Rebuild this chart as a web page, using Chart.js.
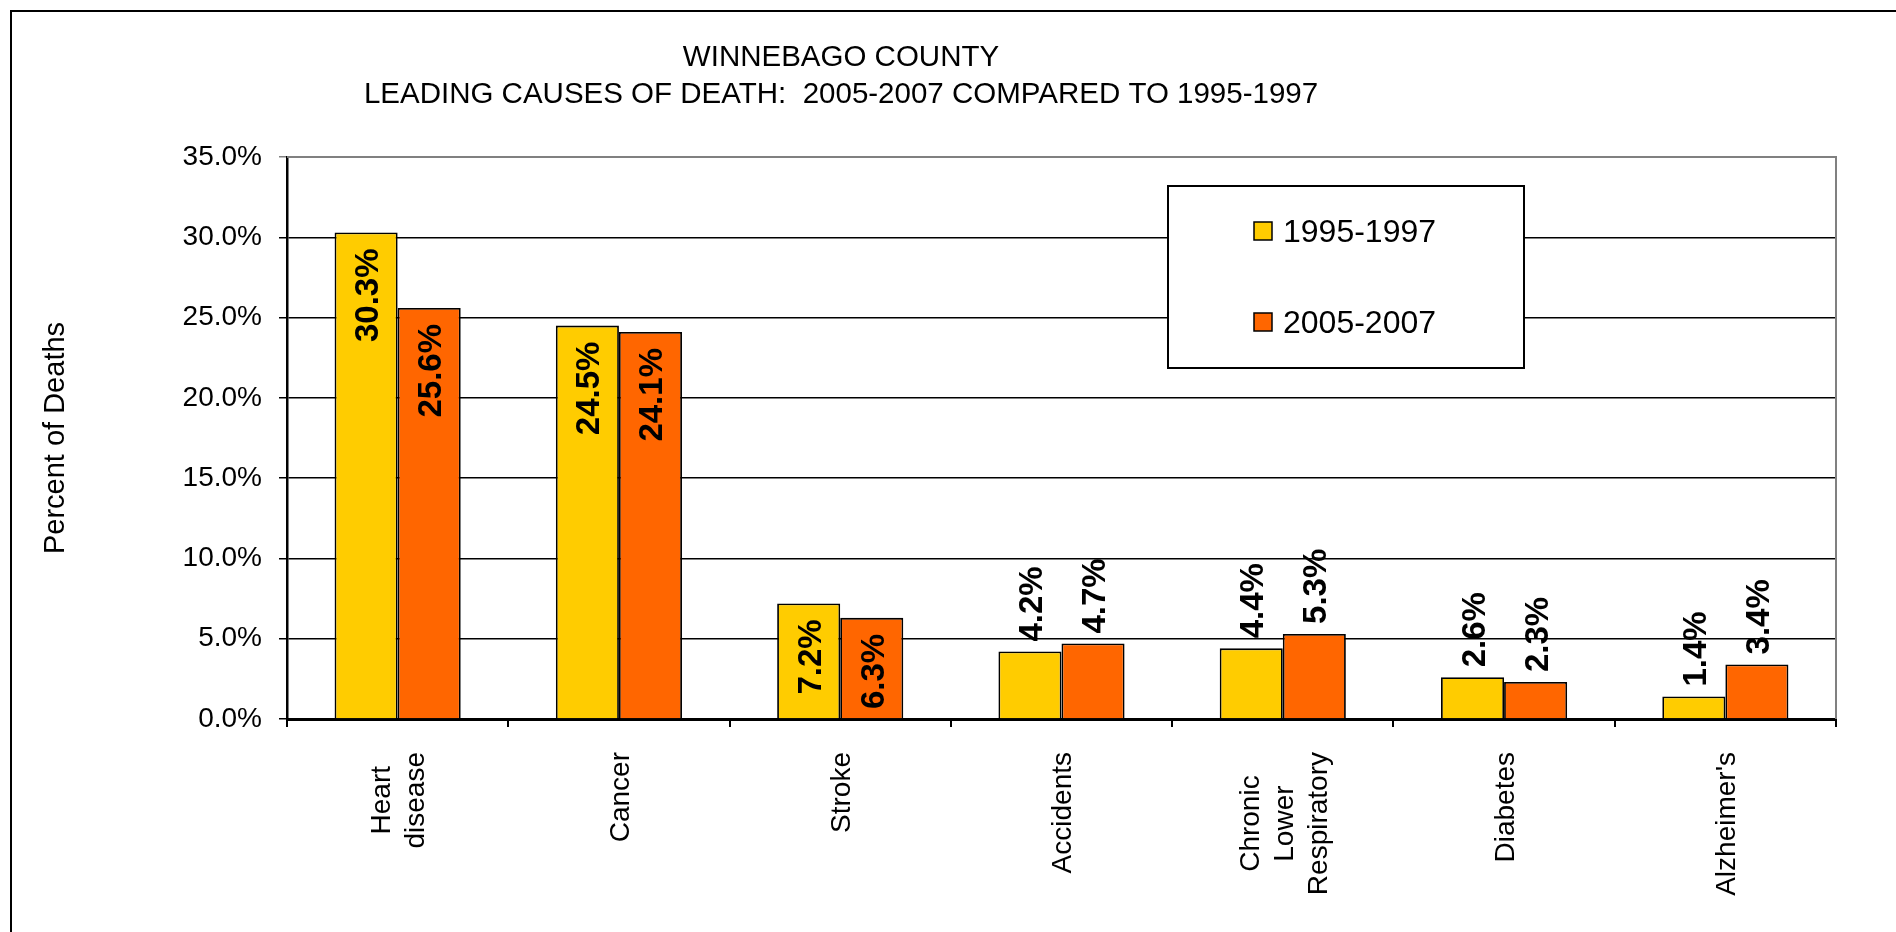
<!DOCTYPE html>
<html><head><meta charset="utf-8">
<script src="https://cdn.jsdelivr.net/npm/chart.js@4.4.1/dist/chart.umd.min.js"></script>
<style>html,body{margin:0;padding:0;background:#fff;overflow:hidden}#wrap{width:1896px;height:932px;position:relative}canvas{display:block}</style>
</head><body><div id="wrap"><canvas id="c" width="1896" height="932"></canvas></div>
<script>
const categories = [['Heart','disease'],['Cancer'],['Stroke'],['Accidents'],['Chronic','Lower','Respiratory'],['Diabetes'],["Alzheimer's"]];
const seriesNames = ['1995-1997','2005-2007'];
const values1995 = [30.3,24.5,7.2,4.2,4.4,2.6,1.4];
const values2005 = [25.6,24.1,6.3,4.7,5.3,2.3,3.4];
const yTicks = [0,5,10,15,20,25,30,35];
const titleLines = ['WINNEBAGO COUNTY','LEADING CAUSES OF DEATH:  2005-2007 COMPARED TO 1995-1997'];
const yAxisTitle = 'Percent of Deaths';

const FONT = '"Liberation Sans", Arial, sans-serif';
const colors = ['#FFCC00','#FF6600'];

const decor = {
  id: 'decor',
  beforeDraw(chart){
    const ctx = chart.ctx;
    ctx.save(); ctx.fillStyle = '#fff'; ctx.fillRect(0,0,chart.width,chart.height); ctx.restore();
  },
  afterDatasetsDraw(chart){
    const ctx = chart.ctx;
    ctx.save();
    ctx.font = 'bold 33px ' + FONT;
    ctx.fillStyle = '#000';
    chart.data.datasets.forEach((ds, di) => {
      const meta = chart.getDatasetMeta(di);
      meta.data.forEach((bar, i) => {
        const v = ds.data[i];
        const txt = v.toFixed(1) + '%';
        const w = ctx.measureText(txt).width;
        const h = bar.base - bar.y;
        const inside = h > w + 20;
        ctx.save();
        ctx.translate(bar.x, inside ? bar.y + 16 : bar.y - 10);
        ctx.rotate(-Math.PI/2);
        ctx.textAlign = inside ? 'right' : 'left';
        ctx.textBaseline = 'alphabetic';
        ctx.fillText(txt, 0, 12);
        ctx.restore();
      });
    });
    ctx.restore();
  },
  afterDraw(chart){
    const ctx = chart.ctx;
    const ca = chart.chartArea;
    ctx.save();
    // outer frame
    ctx.strokeStyle = '#000'; ctx.lineWidth = 2;
    ctx.beginPath(); ctx.moveTo(11, 932); ctx.lineTo(11, 11); ctx.lineTo(1896, 11); ctx.stroke();
    // plot area border (top/right)
    ctx.strokeStyle = '#808080'; ctx.lineWidth = 2;
    ctx.beginPath(); ctx.moveTo(ca.left, ca.top); ctx.lineTo(ca.right, ca.top); ctx.lineTo(ca.right, ca.bottom); ctx.stroke();
    // title
    ctx.fillStyle = '#000';
    ctx.font = '29.5px ' + FONT;
    ctx.textAlign = 'center'; ctx.textBaseline = 'middle';
    titleLines.forEach((t, i) => ctx.fillText(t, 841, 58 + i * 37));
    // legend
    const lx = 1168, ly = 186, lw = 356, lh = 182;
    ctx.fillStyle = '#fff'; ctx.fillRect(lx, ly, lw, lh);
    ctx.strokeStyle = '#000'; ctx.lineWidth = 2; ctx.strokeRect(lx, ly, lw, lh);
    ctx.font = '32px ' + FONT;
    ctx.textAlign = 'left'; ctx.textBaseline = 'middle';
    chart.data.datasets.forEach((ds, i) => {
      const cy = 231 + i * 91;
      ctx.fillStyle = ds.backgroundColor;
      ctx.fillRect(1254, cy - 9, 18, 18);
      ctx.strokeStyle = '#000'; ctx.lineWidth = 1.5;
      ctx.strokeRect(1254, cy - 9, 18, 18);
      ctx.fillStyle = '#000';
      ctx.fillText(ds.label, 1283, cy + 2);
    });
    // category labels
    const xs = chart.scales.x;
    ctx.font = '28px ' + FONT;
    ctx.fillStyle = '#000';
    categories.forEach((lines, i) => {
      const cx = xs.getPixelForValue(i);
      const maxW = Math.max(...lines.map(l => ctx.measureText(l).width));
      const top = ca.bottom + 33;
      lines.forEach((l, j) => {
        const off = (j - (lines.length - 1) / 2) * 34;
        ctx.save();
        ctx.translate(cx + off + 2, top + maxW / 2);
        ctx.rotate(-Math.PI / 2);
        ctx.textAlign = 'center'; ctx.textBaseline = 'middle';
        ctx.fillText(l, 0, 0);
        ctx.restore();
      });
    });
    ctx.restore();
  }
};

new Chart(document.getElementById('c'), {
  type: 'bar',
  data: {
    labels: categories.map(c => c.join(' ')),
    datasets: [
      { label: seriesNames[0], data: values1995, backgroundColor: colors[0], borderColor: '#000', borderWidth: 1.8 },
      { label: seriesNames[1], data: values2005, backgroundColor: colors[1], borderColor: '#000', borderWidth: 1.8 }
    ]
  },
  options: {
    responsive: false,
    devicePixelRatio: 1,
    animation: false,
    layout: { padding: { left: 0, right: 60, top: 157, bottom: 0 } },
    datasets: { bar: { categoryPercentage: 0.57, barPercentage: 1.0 } },
    plugins: { legend: { display: false }, tooltip: { enabled: false }, title: { display: false } },
    scales: {
      x: {
        offset: true,
        grid: { display: true, drawOnChartArea: false, drawTicks: true, tickLength: 8, offset: true, color: '#000', lineWidth: 2 },
        border: { display: true, color: '#000', width: 3 },
        ticks: { display: false },
        afterFit(s){ s.height = 932 - 719; }
      },
      y: {
        min: 0, max: 35,
        afterBuildTicks(s){ s.ticks = yTicks.map(v => ({ value: v })); },
        ticks: { callback: v => Number(v).toFixed(1) + '%', font: { size: 28, family: FONT }, color: '#000', padding: 17 },
        grid: { color: ctx => (ctx.tick && ctx.tick.value === 35) ? '#808080' : '#000', lineWidth: 1.5, drawTicks: true, tickLength: 8 },
        border: { display: true, color: '#000', width: 2.5 },
        title: { display: true, text: yAxisTitle, font: { size: 29, family: FONT }, color: '#000', padding: { top: 39, bottom: 0 } },
        afterFit(s){ s.width = 287; }
      }
    }
  },
  plugins: [decor]
});
</script>
</body></html>
